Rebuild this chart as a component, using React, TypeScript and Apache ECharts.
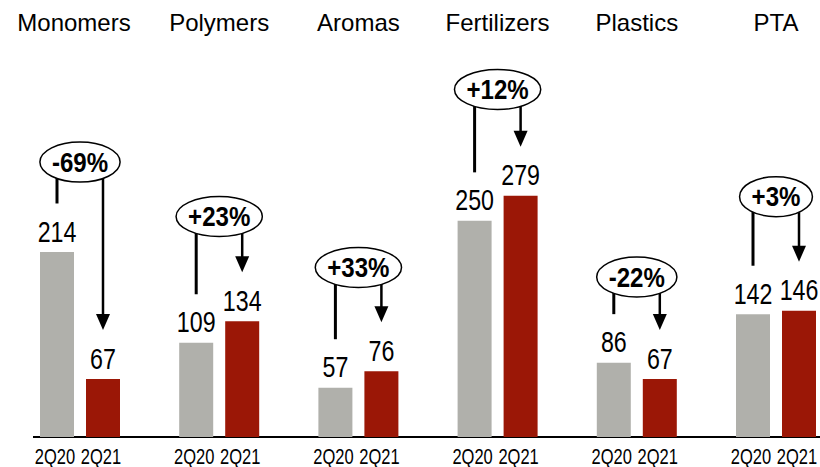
import React, { useEffect, useRef } from "react";
import * as echarts from "echarts";

const categories = ["Monomers", "Polymers", "Aromas", "Fertilizers", "Plastics", "PTA"];
const periods = ["2Q20", "2Q21"];
const values2Q20 = [214, 109, 57, 250, 86, 142];
const values2Q21 = [67, 134, 76, 279, 67, 146];
const changes = ["-69%", "+23%", "+33%", "+12%", "-22%", "+3%"];
const badgeLevels = [318, 255, 196, 402, 185, 278];

const FONT = '"Liberation Sans", Arial, sans-serif';
const GRAY = "#b0b0ab";
const RED = "#9b1706";
const BAR_W = 34;
const BAR_GAP = 12;
const OFF = (BAR_W + BAR_GAP) / 2;

const boldW: Record<string, number> = { "+": 0.584, "-": 0.333, "%": 0.889 };
function badgeWidth(s: string, size: number, sx: number) {
  let w = 0;
  for (const c of s) w += boldW[c] ?? 0.556;
  return w * size * sx;
}

export default function App() {
  const ref = useRef<HTMLDivElement>(null);
  useEffect(() => {
    document.body.style.margin = "0";
    const chart = echarts.init(ref.current!, null, { renderer: "svg" });
    const badgeFont = 28;
    const badgeSX = 0.86;
    const valFont = 29;
    const valSX = 0.8;
    const tickFont = 22;
    const tickSX = 0.75;
    const txt = (
      text: string,
      x: number,
      y: number,
      size: number,
      sx: number,
      bold = false,
      lineHeight?: number
    ) => ({
      type: "text",
      x,
      y,
      scaleX: sx,
      style: {
        text,
        fontFamily: FONT,
        fontWeight: bold ? "bold" : "normal",
        fontSize: size,
        lineHeight: lineHeight ?? size,
        fill: "#000",
        align: "center",
        verticalAlign: "middle",
      },
    });
    chart.setOption({
      animation: false,
      grid: { left: 10.4, width: 835.2, top: 22, bottom: 30, outerBoundsMode: "none", containLabel: false },
      xAxis: {
        type: "category",
        data: categories,
        axisLine: { show: false },
        axisTick: { show: false },
        axisLabel: { show: false },
      },
      yAxis: { type: "value", min: 0, max: 480, show: false, splitLine: { show: false } },
      graphic: [
        {
          type: "line",
          shape: { x1: 33, y1: 437, x2: 820, y2: 437 },
          style: { stroke: "#000", lineWidth: 2 },
        },
      ],
      series: [
        {
          type: "bar",
          name: periods[0],
          data: values2Q20,
          barWidth: BAR_W,
          barGap: (BAR_GAP / BAR_W) * 100 + "%",
          itemStyle: { color: GRAY },
        },
        {
          type: "bar",
          name: periods[1],
          data: values2Q21,
          barWidth: BAR_W,
          itemStyle: { color: RED },
        },
        {
          type: "custom",
          data: categories.map((_, i) => [i, values2Q20[i], values2Q21[i], badgeLevels[i]]),
          z: 10,
          renderItem: (params: any, api: any) => {
            const i = params.dataIndex;
            const [cx, y0] = api.coord([i, 0]);
            const yGray = api.coord([i, api.value(1)])[1];
            const yRed = api.coord([i, api.value(2)])[1];
            const yB = api.coord([i, api.value(3)])[1];
            const xl = cx - OFF;
            const xr = cx + OFF;
            const lineEnd = yGray - 48.5;
            const tip = yRed - 49;
            const headH = 16;
            const headW = 7;
            const label = changes[i];
            const rx = badgeWidth(label, badgeFont, badgeSX) / 2 + 12;
            const titleShift = i === 0 ? -6 : 0;
            const valDy = 10 + 0.358 * valFont;
            return {
              type: "group",
              children: [
                {
                  type: "line",
                  shape: { x1: xl, y1: yB, x2: xl, y2: lineEnd },
                  style: { stroke: "#000", lineWidth: 3 },
                },
                {
                  type: "line",
                  shape: { x1: xr, y1: yB, x2: xr, y2: tip - headH + 1 },
                  style: { stroke: "#000", lineWidth: 2.5 },
                },
                {
                  type: "polygon",
                  shape: {
                    points: [
                      [xr - headW, tip - headH],
                      [xr + headW, tip - headH],
                      [xr, tip],
                    ],
                  },
                  style: { fill: "#000" },
                },
                {
                  type: "ellipse",
                  shape: { cx, cy: yB, rx, ry: 20 },
                  style: { fill: "#fff", stroke: "#000", lineWidth: 1.5 },
                },
                txt(label, cx, yB, badgeFont, badgeSX, true),
                txt(String(api.value(1)), xl, yGray - valDy, valFont, valSX),
                txt(String(api.value(2)), xr, yRed - valDy, valFont, valSX),
                txt(periods[0], xl - 2, y0 + 19, tickFont, tickSX, false, 17),
                txt(periods[1], xr - 2, y0 + 19, tickFont, tickSX, false, 17),
                txt(categories[i], cx + titleShift, 22, 24, 1),
              ],
            };
          },
        },
      ],
    });
    return () => chart.dispose();
  }, []);
  return <div ref={ref} style={{ width: 820, height: 467 }} />;
}
